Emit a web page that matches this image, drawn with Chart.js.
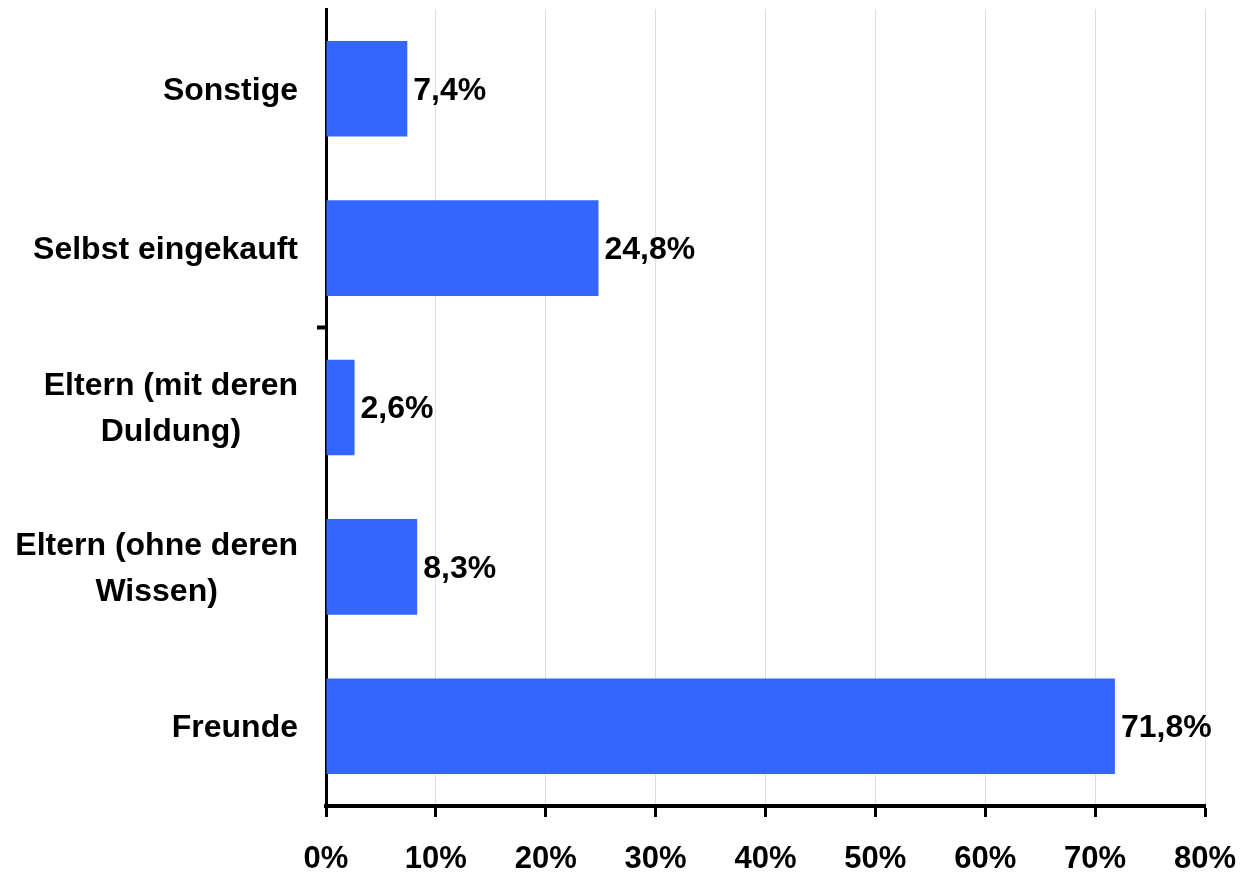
<!DOCTYPE html>
<html>
<head>
<meta charset="utf-8">
<script src="https://cdn.jsdelivr.net/npm/chart.js@4/dist/chart.umd.min.js"></script>
<style>
html,body{margin:0;padding:0;background:#fff;}
#wrap{width:1242px;height:875px;}
</style>
</head>
<body>
<div id="wrap"><canvas id="c" width="1242" height="875"></canvas></div>
<script>
const categories = [
  "Sonstige",
  "Selbst eingekauft",
  ["Eltern (mit deren", "Duldung)"],
  ["Eltern (ohne deren", "Wissen)"],
  "Freunde"
];
const values = [7.4, 24.8, 2.6, 8.3, 71.8];
const xTicks = [0, 10, 20, 30, 40, 50, 60, 70, 80];

const FONT = "'Liberation Sans', Arial, sans-serif";

const valueLabels = {
  id: 'valueLabels',
  afterDatasetsDraw(chart) {
    const ctx = chart.ctx;
    const meta = chart.getDatasetMeta(0);
    ctx.save();
    ctx.font = "bold 32px " + FONT;
    ctx.fillStyle = '#000';
    ctx.textAlign = 'left';
    ctx.textBaseline = 'middle';
    meta.data.forEach((bar, i) => {
      const txt = values[i].toFixed(1).replace('.', ',') + '%';
      ctx.fillText(txt, bar.x + 6, bar.y + 2);
    });
    ctx.restore();
  }
};

const categoryLabels = {
  id: 'categoryLabels',
  afterDraw(chart) {
    const ctx = chart.ctx;
    const y = chart.scales.y;
    const right = chart.chartArea.left - 28;
    ctx.save();
    ctx.font = "bold 32px " + FONT;
    ctx.fillStyle = '#000';
    ctx.textAlign = 'center';
    ctx.textBaseline = 'middle';
    categories.forEach((lab, i) => {
      const lines = Array.isArray(lab) ? lab : [lab];
      const widest = Math.max(...lines.map(l => ctx.measureText(l).width));
      const cx = right - widest / 2;
      const cy = y.getPixelForTick(i) + 2;
      const lh = 46;
      lines.forEach((l, j) => {
        ctx.fillText(l, cx, cy + (j - (lines.length - 1) / 2) * lh);
      });
    });
    ctx.restore();
  }
};

new Chart(document.getElementById('c'), {
  type: 'bar',
  data: {
    labels: categories,
    datasets: [{
      data: values,
      backgroundColor: '#3366FF',
      borderWidth: 0,
      barPercentage: 0.6,
      categoryPercentage: 1.0
    }]
  },
  options: {
    indexAxis: 'y',
    responsive: false,
    animation: false,
    layout: { padding: { top: 9, right: 37, left: 0, bottom: 0 } },
    plugins: { legend: { display: false }, tooltip: { enabled: false } },
    scales: {
      x: {
        type: 'linear',
        min: 0,
        max: 80,
        afterBuildTicks(scale) { scale.ticks = xTicks.map(v => ({ value: v })); },
        afterFit(scale) { scale.height = 69; scale.paddingRight = 0; scale.paddingLeft = 0; },
        border: { display: true, color: '#000', width: 4 },
        grid: {
          color: '#dddddd',
          lineWidth: 1,
          tickColor: '#000',
          tickWidth: 3,
          tickLength: 11,
          drawTicks: true
        },
        ticks: {
          color: '#000',
          font: { family: FONT, size: 31, weight: 'bold' },
          padding: 24,
          maxRotation: 0,
          callback: v => v + '%'
        }
      },
      y: {
        type: 'category',
        afterFit(scale) { scale.width = 326; },
        border: { display: true, color: '#000', width: 3 },
        grid: {
          drawOnChartArea: false,
          drawTicks: true,
          tickLength: 9,
          tickWidth: 4,
          tickColor: ctx => (ctx.index === 2 || ctx.index === 5) ? '#000' : 'rgba(0,0,0,0)'
        },
        ticks: { display: false }
      }
    }
  },
  plugins: [valueLabels, categoryLabels]
});
</script>
</body>
</html>
